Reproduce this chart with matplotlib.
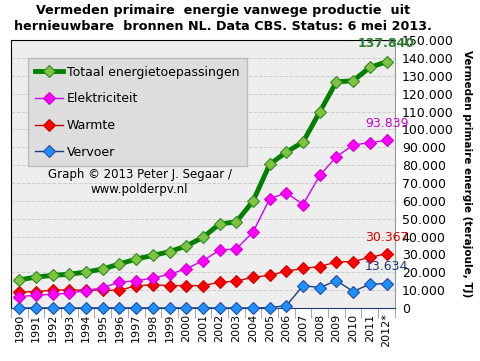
import numpy as np
import matplotlib
matplotlib.use("Agg")
import matplotlib.pyplot as plt
from matplotlib.ticker import FuncFormatter, MultipleLocator

jaren = ["1990", "1991", "1992", "1993", "1994", "1995", "1996", "1997", "1998", "1999",
         "2000", "2001", "2002", "2003", "2004", "2005", "2006", "2007", "2008", "2009",
         "2010", "2011", "2012*"]

totaal = [15700, 17300, 18200, 18900, 20100, 21800, 24600, 27400, 29400, 31500,
          34700, 39500, 47000, 48200, 59800, 80400, 87300, 92900, 109800, 126600,
          127200, 134700, 137840]
elektriciteit = [6400, 7100, 7700, 8300, 9700, 11400, 14400, 15200, 16700, 18900,
                 21900, 26400, 32400, 33000, 42500, 61100, 64500, 57900, 74200, 84700,
                 91200, 92600, 93839]
warmte = [8800, 9200, 9900, 10100, 9900, 9900, 9900, 12400, 12900, 12500,
          12500, 12500, 14400, 15000, 17200, 18200, 20600, 22100, 23200, 25700,
          26000, 28300, 30367]
vervoer = [0, 0, 0, 0, 0, 0, 0, 0, 0, 0,
           0, 0, 0, 0, 0, 200, 1300, 12500, 11400, 15300,
           9200, 13300, 13634]

x = np.arange(len(jaren))

fig = plt.figure(figsize=(4.81, 3.61), dpi=100)
ax = fig.add_axes([0.0229, 0.147, 0.798, 0.742])
ax.set_facecolor("#eeeeee")

series = [
    ("Totaal energietoepassingen", totaal, "#008000", "#80c342", "#2f8a1f", 3.5),
    ("Elektriciteit", elektriciteit, "#cc00ff", "#ff00ff", "#cc00cc", 1.0),
    ("Warmte", warmte, "#cc0000", "#ff0000", "#cc0000", 1.0),
    ("Vervoer", vervoer, "#1f3a7a", "#1e90ff", "#1f4f9f", 1.0),
]
lines = []
for naam, vals, lc, mfc, mec, lw in series[::-1]:
    l, = ax.plot(x, vals, color=lc, lw=lw, marker="D", ms=6.5, mfc=mfc, mec=mec,
                 mew=0.8, label=naam, clip_on=False, zorder=3)
    lines.append(l)
lines = lines[::-1]

# waarde-labels bij laatste jaar
ax.annotate("137.840", (x[-1], totaal[-1]), xytext=(0, 13), textcoords="offset points",
            ha="center", va="center", color="#2e7d32", fontsize=9, fontweight="bold")
ax.annotate("93.839", (x[-1], elektriciteit[-1]), xytext=(0, 12), textcoords="offset points",
            ha="center", va="center", color="#cc00cc", fontsize=9)
ax.annotate("30.367", (x[-1], warmte[-1]), xytext=(0, 12), textcoords="offset points",
            ha="center", va="center", color="#dd0000", fontsize=9)
ax.annotate("13.634", (x[-1], vervoer[-1]), xytext=(0, 12), textcoords="offset points",
            ha="center", va="center", color="#1f3a7a", fontsize=9)

ax.set_xlim(-0.5, len(jaren) - 0.5)
ax.set_ylim(0, 150000)
ax.yaxis.tick_right()
ax.yaxis.set_label_position("right")
ax.yaxis.set_major_locator(MultipleLocator(10000))
ax.yaxis.set_major_formatter(FuncFormatter(lambda v, _: f"{int(v):,}".replace(",", ".")))
ax.tick_params(axis="y", labelsize=9, length=0, pad=5)
ax.set_xticks(x)
ax.set_xticklabels(jaren, rotation=90, fontsize=8)
ax.set_xticks(np.arange(-0.5, len(jaren), 1), minor=True)
ax.tick_params(axis="x", which="major", length=0, pad=4)
ax.tick_params(axis="x", which="minor", length=7, color="#999999")
ax.grid(axis="y", color="#cccccc", ls="--", lw=0.7)
ax.set_axisbelow(True)

for s in ["left", "top"]:
    ax.spines[s].set_color("black")
ax.spines["right"].set_color("#999999")
ax.spines["bottom"].set_color("#1f3a7a")

ax.set_ylabel("Vermeden primaire energie (terajoule, TJ)", rotation=-90, labelpad=13,
              fontsize=7.5, fontweight="bold")

leg = ax.legend(handles=lines, loc="upper left", bbox_to_anchor=(0.044, 0.933),
                borderaxespad=0, fontsize=9, labelspacing=1.1, handlelength=2.2,
                handletextpad=0.3, fancybox=False, framealpha=1,
                facecolor="#dddddd", edgecolor="#bbbbbb", borderpad=0.6)
leg.set_zorder(2)

ax.text(0.335, 0.47, "Graph © 2013 Peter J. Segaar /\nwww.polderpv.nl", transform=ax.transAxes,
        ha="center", va="center", fontsize=8.5, linespacing=1.2)

fig.text(0.463, 0.948, "Vermeden primaire  energie vanwege productie  uit\nhernieuwbare  bronnen NL. Data CBS. Status: 6 mei 2013.",
         ha="center", va="center", fontsize=9.2, fontweight="bold", linespacing=1.3)

fig.savefig("out.png", dpi=100)
